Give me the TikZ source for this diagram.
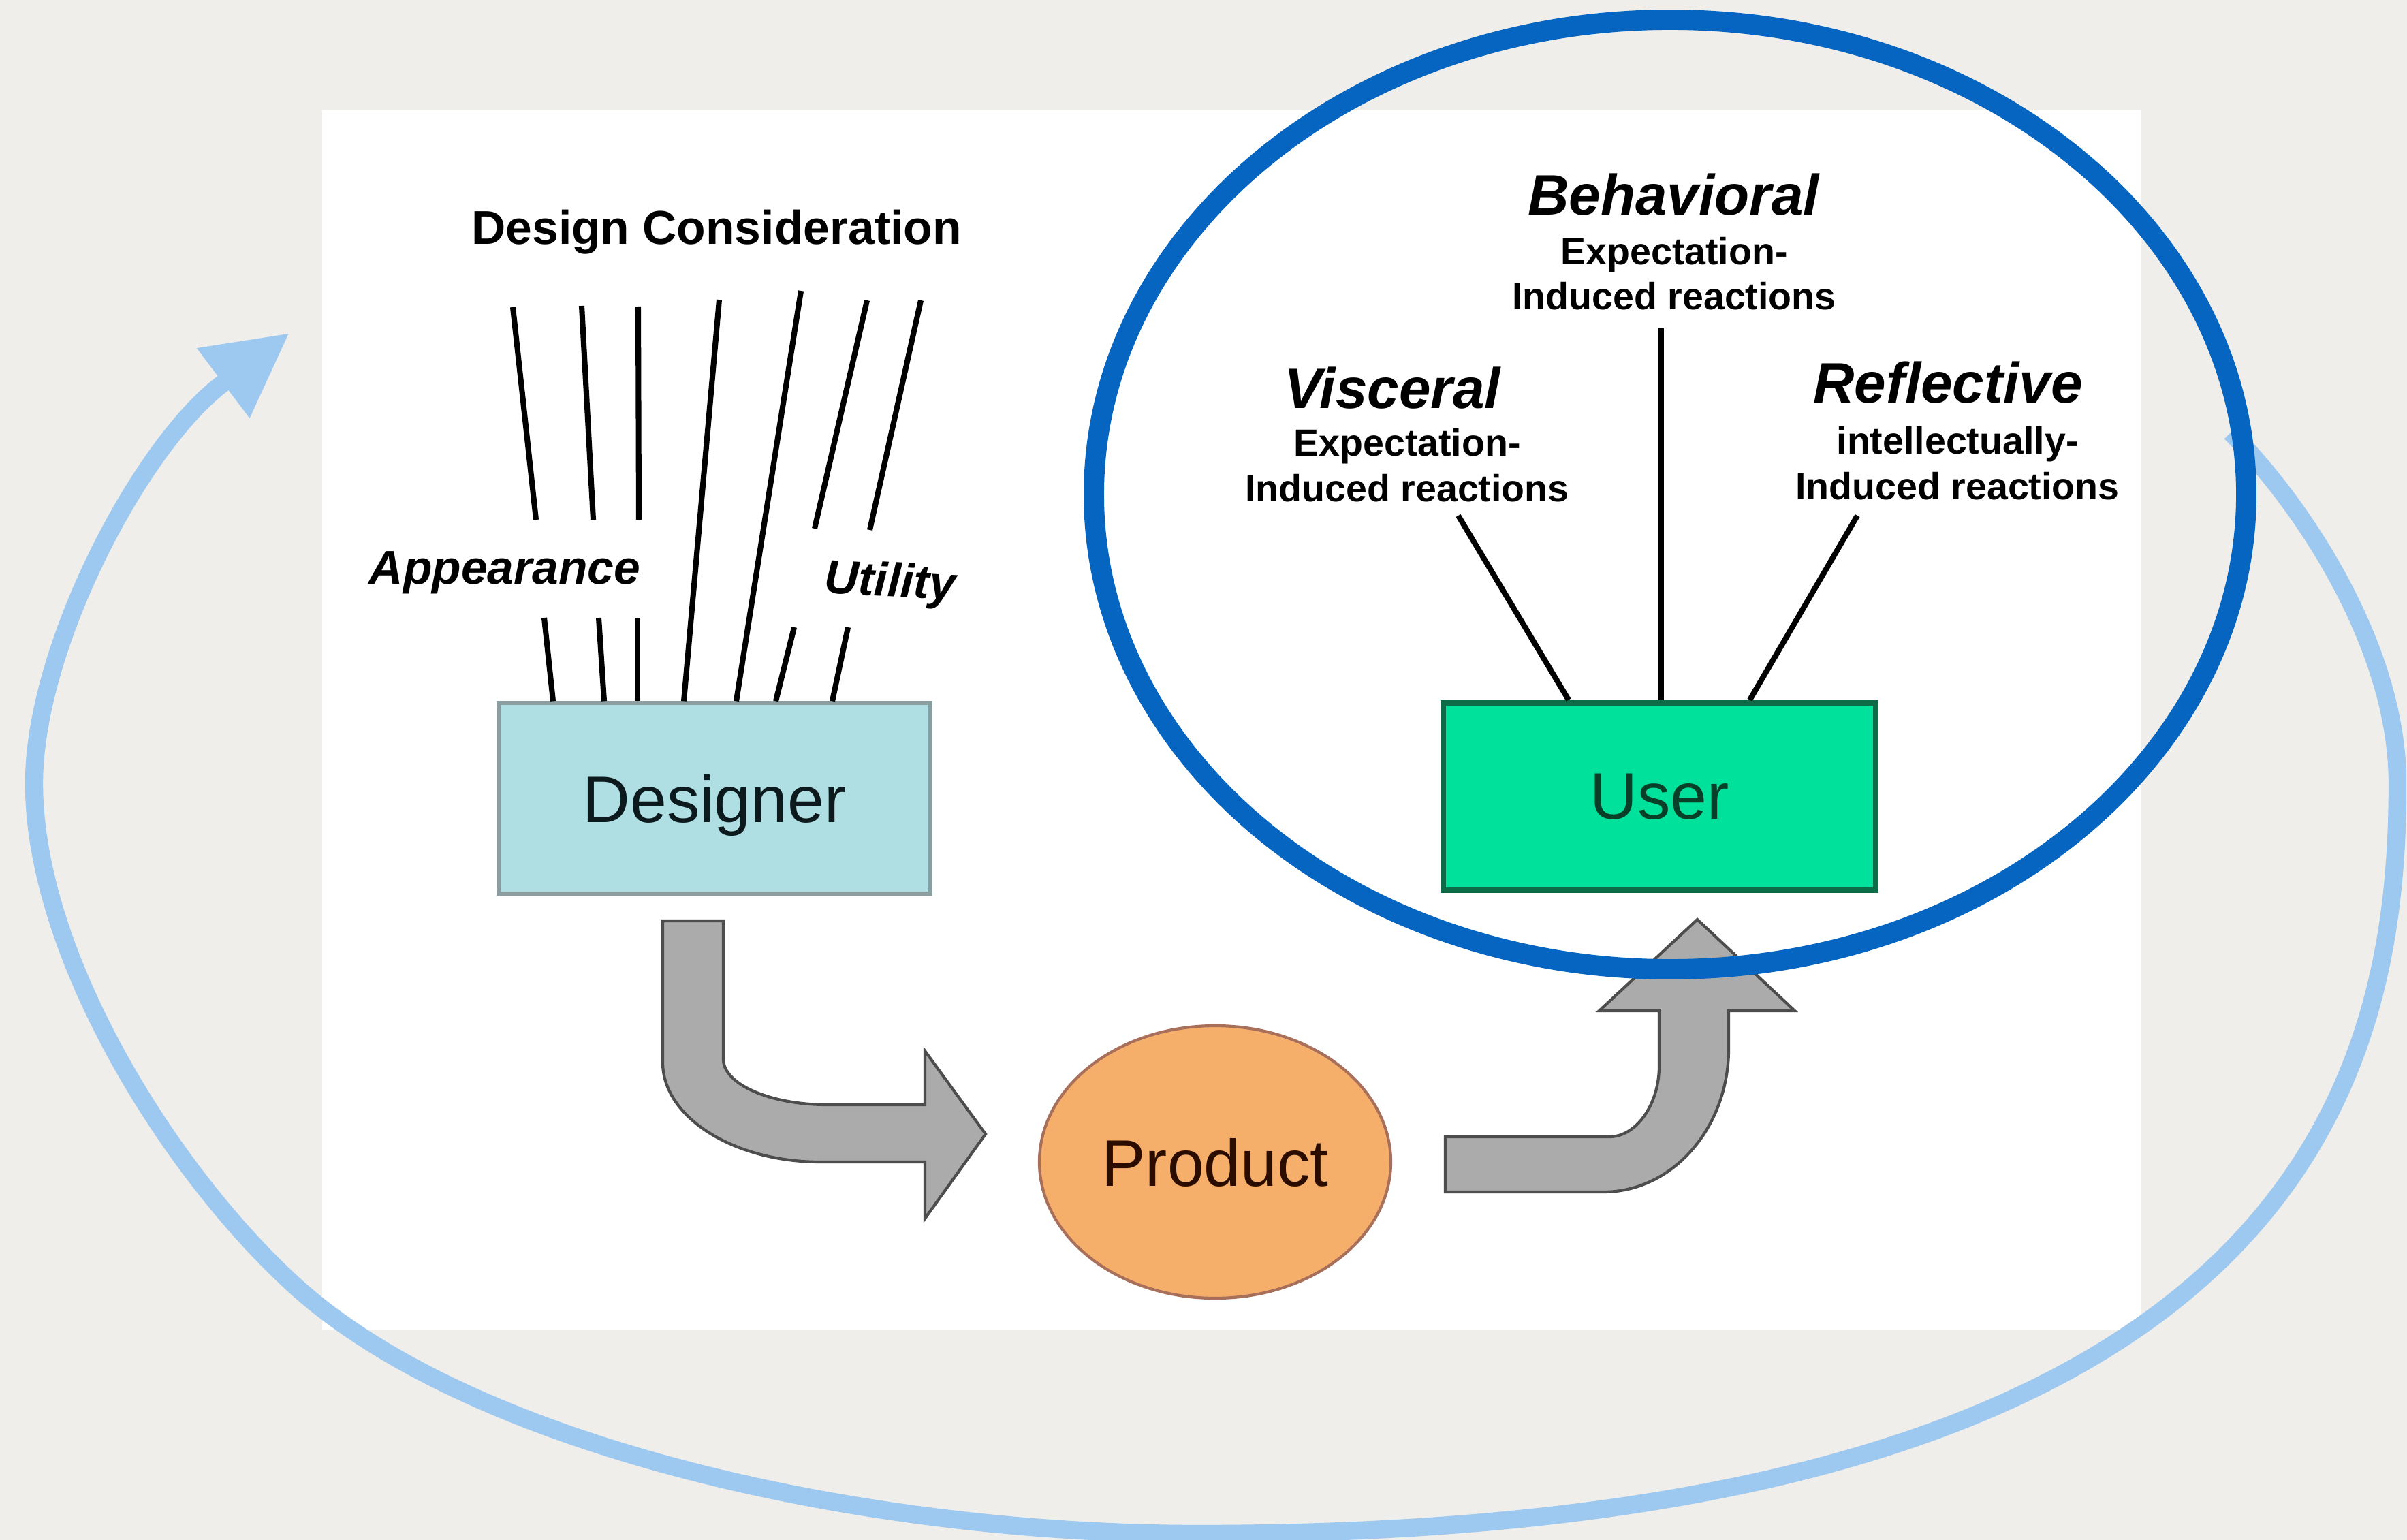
\documentclass[tikz,border=0pt]{standalone}
\usepackage{fontspec}
\setmainfont{Liberation Sans}
\usetikzlibrary{shapes.geometric, arrows.meta}

\definecolor{paper}{HTML}{EFEEEA}
\definecolor{loopblue}{HTML}{9DC8F0}
\definecolor{ringblue}{HTML}{0565C0}
\definecolor{designerfill}{HTML}{AFDFE3}
\definecolor{designerline}{HTML}{8A9EA0}
\definecolor{designertext}{HTML}{0C1A1E}
\definecolor{userfill}{HTML}{00E29C}
\definecolor{userline}{HTML}{0D6B47}
\definecolor{usertext}{HTML}{093F28}
\definecolor{productfill}{HTML}{F6AE6B}
\definecolor{productline}{HTML}{A8705A}
\definecolor{producttext}{HTML}{2B0D00}
\definecolor{bendfill}{HTML}{ABABAB}
\definecolor{bendline}{HTML}{4D4D4D}

\begin{document}
\begin{tikzpicture}[x=1cm, y=-1cm,
    boxword/.style={font=\fontsize{27.5}{33}\selectfont, inner sep=0pt, text depth=0pt},
    topic/.style={font=\fontsize{19.8}{24}\selectfont\bfseries, anchor=base},
    aspect/.style={font=\fontsize{19.8}{24}\selectfont\bfseries\itshape, anchor=base},
    level/.style={font=\fontsize{23.8}{28}\selectfont\bfseries\itshape, anchor=base},
    reaction/.style={font=\fontsize{15.8}{18.8}\selectfont\bfseries, align=center, anchor=base},
    stroke/.style={line width=2.3pt},
    bendarrow/.style={fill=bendfill, draw=bendline, line width=1.2pt},
    loopline/.style={draw=loopblue, line width=7.5pt, -{Triangle[length=1.22cm, width=1.21cm]}}]
    \useasboundingbox (0,0) rectangle (35.34,22.61);
    \fill[paper] (0,0) rectangle (35.34,22.61);
    \fill[white] (4.73,1.62) rectangle (31.44,19.52);

    % loop back to the designer
    \coordinate (loopstart) at (32.75,6.35);
    \coordinate (looptip) at (4.25,4.89);
    \draw[loopline] (loopstart) .. controls (33.81,7.41) and (35.20,9.50) .. (35.20,11.50)
      .. controls (35.20,15.74) and (33.87,22.52) .. (17.60,22.52)
      .. controls (12.60,22.52) and (6.88,21.22) .. (4.30,18.85)
      .. controls (2.46,17.16) and (0.50,14.00) .. (0.50,11.50)
      .. controls (0.50,9.50) and (2.07,6.53) .. (3.27,5.63) -- (looptip);

    \node[boxword, draw=designerline, fill=designerfill, line width=1.5pt, minimum width=6.34cm,
      minimum height=2.80cm, text=designertext] (designer) at (10.49,11.72) {Designer};
    \node[boxword, draw=userline, fill=userfill, line width=2.5pt, minimum width=6.35cm,
      minimum height=2.75cm, text=usertext] (user) at (24.365,11.695) {User};
    \node[boxword, ellipse, draw=productline, fill=productfill, line width=1.2pt, minimum width=5.16cm,
      minimum height=4.00cm, text=producttext] (product) at (17.84,17.06) {Product};

    \node[topic] (consider) at (10.52,3.59) {Design Consideration};
    \node[aspect] (appearance) at (7.41,8.57) {Appearance};
    \node[aspect, rotate=-3] (utility) at (13.06,8.76) {Utility};

    \foreach \xa/\ya/\xb/\yb in {7.53/4.51/7.87/7.63, 8.54/4.49/8.71/7.63, 9.37/4.50/9.38/7.63,
      12.73/4.41/11.96/7.76, 13.52/4.41/12.77/7.78}
        \draw[stroke] (\xa,\ya) -- (\xb,\yb);
    \foreach \xa/\ya/\xb in {10.56/4.40/10.04, 11.76/4.27/10.81, 7.99/9.07/8.12, 8.79/9.07/8.87,
      9.36/9.07/9.36, 11.66/9.21/11.39, 12.45/9.21/12.22}
        \draw[stroke] (\xa,\ya) -- (\xb,0 |- designer.north);

    \node[level] (behavioral) at (24.57,3.16) {Behavioral};
    \node[reaction] (behavsub) at (24.58,4.55) {Expectation-\\Induced reactions};
    \node[level] (visceral) at (20.44,6.00) {Visceral};
    \node[reaction] (viscsub) at (20.66,7.36) {Expectation-\\Induced reactions};
    \node[level] (reflective) at (28.60,5.92) {Reflective};
    \node[reaction] (reflsub) at (28.74,7.33) {intellectually-\\Induced reactions};

    \draw[stroke] (21.41,7.57) -- (23.03,0 |- user.north);
    \draw[stroke] (24.39,4.82) -- (24.39,0 |- user.north);
    \draw[stroke] (27.27,7.57) -- (25.69,0 |- user.north);

    \draw[bendarrow] (9.73,13.52) -- (9.73,15.60) .. controls (9.73,16.40) and (10.77,17.06) .. (12.05,17.06)
      -- (13.58,17.06) -- (13.58,17.89) -- (14.47,16.65) -- (13.58,15.43) -- (13.58,16.22) -- (12.15,16.22)
      .. controls (11.31,16.22) and (10.62,15.92) .. (10.62,15.55) -- (10.62,13.52) -- cycle;
    \draw[bendarrow] (21.22,16.69) -- (23.63,16.69) .. controls (24.02,16.69) and (24.36,16.22) .. (24.36,15.65)
      -- (24.36,14.84) -- (23.48,14.84) -- (24.92,13.50) -- (26.35,14.84) -- (25.38,14.84) -- (25.38,15.40)
      .. controls (25.38,16.55) and (24.56,17.50) .. (23.54,17.50) -- (21.22,17.50) -- cycle;

    \draw[ringblue, line width=8.5pt] (24.52,7.26) ellipse [x radius=8.46, y radius=6.97];
\end{tikzpicture}
\end{document}
